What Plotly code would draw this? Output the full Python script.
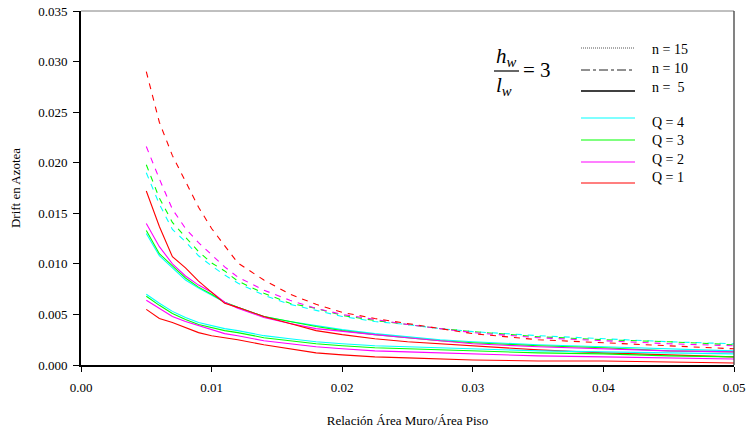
import plotly.graph_objects as go

# Wall-to-floor area ratio (x) shared by every curve
ratio = [0.005, 0.006, 0.007, 0.008, 0.009, 0.010, 0.011, 0.012, 0.014, 0.016,
         0.018, 0.020, 0.0225, 0.025, 0.0275, 0.030, 0.035, 0.040, 0.045, 0.050]

# Roof drift, n = 15 storeys
n15_q4 = [0.0190, 0.0159, 0.0134, 0.0122, 0.0108, 0.0098, 0.0089, 0.0081, 0.0069, 0.0060,
          0.0054, 0.0048, 0.0043, 0.0040, 0.0036, 0.0033, 0.0029, 0.0026, 0.0023, 0.0021]
n15_q3 = [0.0198, 0.0165, 0.0141, 0.0127, 0.0112, 0.0101, 0.0093, 0.0083, 0.0071, 0.0061,
          0.0056, 0.0049, 0.0044, 0.0040, 0.0036, 0.0033, 0.0028, 0.0025, 0.0023, 0.0020]
n15_q2 = [0.0216, 0.0184, 0.0154, 0.0135, 0.0121, 0.0109, 0.0097, 0.0087, 0.0074, 0.0064,
          0.0056, 0.0050, 0.0045, 0.0040, 0.0036, 0.0032, 0.0027, 0.0024, 0.0021, 0.0019]
n15_q1 = [0.0290, 0.0240, 0.0207, 0.0181, 0.0156, 0.0135, 0.0118, 0.0101, 0.0084, 0.0070,
          0.0060, 0.0052, 0.0046, 0.0041, 0.0036, 0.0031, 0.0025, 0.0022, 0.0019, 0.0016]

# Roof drift, n = 10 storeys
n10_q4 = [0.0130, 0.0108, 0.0096, 0.0084, 0.0076, 0.0069, 0.0062, 0.0057, 0.0048, 0.0043,
          0.0039, 0.0035, 0.0031, 0.0028, 0.0025, 0.0023, 0.0020, 0.0018, 0.0016, 0.0014]
n10_q3 = [0.0133, 0.0110, 0.0098, 0.0086, 0.0077, 0.0070, 0.0062, 0.0057, 0.0048, 0.0043,
          0.0038, 0.0034, 0.0030, 0.0027, 0.0024, 0.0022, 0.0019, 0.0017, 0.0014, 0.0013]
n10_q2 = [0.0140, 0.0117, 0.0100, 0.0088, 0.0079, 0.0072, 0.0062, 0.0056, 0.0047, 0.0041,
          0.0036, 0.0033, 0.0030, 0.0027, 0.0024, 0.0021, 0.0018, 0.0016, 0.0014, 0.0013]
n10_q1 = [0.0172, 0.0137, 0.0107, 0.0096, 0.0083, 0.0072, 0.0061, 0.0057, 0.0048, 0.0041,
          0.0034, 0.0030, 0.0026, 0.0023, 0.0021, 0.0019, 0.0015, 0.0012, 0.0010, 0.0008]

# Roof drift, n = 5 storeys
n5_q4 = [0.0070, 0.0061, 0.0053, 0.0047, 0.0042, 0.0039, 0.0036, 0.0034, 0.0029, 0.0026,
         0.0023, 0.0021, 0.0019, 0.0018, 0.0017, 0.0016, 0.0014, 0.0013, 0.0012, 0.0011]
n5_q3 = [0.0068, 0.0059, 0.0051, 0.0045, 0.0040, 0.0037, 0.0034, 0.0032, 0.0027, 0.0024,
         0.0021, 0.0019, 0.0017, 0.0016, 0.0015, 0.0014, 0.0012, 0.0011, 0.0009, 0.0008]
n5_q2 = [0.0064, 0.0056, 0.0048, 0.0043, 0.0039, 0.0035, 0.0031, 0.0029, 0.0024, 0.0021,
         0.0018, 0.0016, 0.0014, 0.0013, 0.0012, 0.0011, 0.0009, 0.0008, 0.0007, 0.0006]
n5_q1 = [0.0055, 0.0046, 0.0042, 0.0037, 0.0032, 0.0029, 0.0027, 0.0025, 0.0020, 0.0016,
         0.0012, 0.0010, 0.0008, 0.0007, 0.0006, 0.0005, 0.0004, 0.0004, 0.0003, 0.0002]

q_colors = {"Q = 4": "#00FFFF", "Q = 3": "#00FF00", "Q = 2": "#FF00FF", "Q = 1": "#FF0000"}

groups = [
    ("6px,6px", {"Q = 4": n15_q4, "Q = 3": n15_q3, "Q = 2": n15_q2, "Q = 1": n15_q1}),
    ("solid",   {"Q = 4": n10_q4, "Q = 3": n10_q3, "Q = 2": n10_q2, "Q = 1": n10_q1}),
    ("solid",   {"Q = 4": n5_q4, "Q = 3": n5_q3, "Q = 2": n5_q2, "Q = 1": n5_q1}),
]

FONT = "Liberation Serif"

fig = go.Figure()
for dash, series in groups:
    for name, vals in series.items():
        fig.add_trace(go.Scatter(
            x=ratio, y=vals, mode="lines", showlegend=False,
            line=dict(color=q_colors[name], width=1.1, dash=dash),
            hoverinfo="skip"))

# Plot-area geometry in pixels (for placing the hand-drawn key)
L, R, T, B = 81, 734, 11, 365
W, H = R - L, B - T

def px(x):
    return (x - L) / W

def py(y):
    return (B - y) / H

shapes = []
annotations = []

# Thin grey frame on top and right
shapes.append(dict(type="line", xref="paper", yref="paper", x0=0, x1=1, y0=1, y1=1,
                   line=dict(color="#808080", width=1)))
shapes.append(dict(type="line", xref="paper", yref="paper", x0=1, x1=1, y0=0, y1=1,
                   line=dict(color="#404040", width=1.3)))

# Key: storeys (line style) and Q (colour)
key_lines = [
    (48, "#555555", "1px,1px", 1, "n = 15", 49),
    (70, "#222222", "dashdot", 1, "n = 10", 68),
    (91, "#000000", "solid", 1.6, "n =  5", 87),
    (118, "#00FFFF", "solid", 1.2, "Q = 4", 123),
    (140, "#00FF00", "solid", 1.2, "Q = 3", 141),
    (162, "#FF00FF", "solid", 1.2, "Q = 2", 159),
    (183, "#FF0000", "solid", 1.2, "Q = 1", 177),
]
for ly, col, dsh, wd, label, ty in key_lines:
    shapes.append(dict(type="line", xref="paper", yref="paper",
                       x0=px(581), x1=px(635), y0=py(ly), y1=py(ly),
                       line=dict(color=col, width=wd, dash=dsh)))
    annotations.append(dict(xref="paper", yref="paper", x=px(650), y=py(ty),
                            text=label.replace(" ", "&nbsp;"), showarrow=False,
                            xanchor="left", yanchor="middle",
                            font=dict(family=FONT, size=14, color="black")))

# h_w / l_w = 3
shapes.append(dict(type="line", xref="paper", yref="paper",
                   x0=px(494), x1=px(519), y0=py(71), y1=py(71),
                   line=dict(color="black", width=1.2)))
annotations += [
    dict(xref="paper", yref="paper", x=px(506), y=py(57), showarrow=False,
         text="<i>h</i><sub><i>w</i></sub>", xanchor="center", yanchor="middle",
         font=dict(family=FONT, size=21, color="black")),
    dict(xref="paper", yref="paper", x=px(504), y=py(86), showarrow=False,
         text="<i>l</i><sub><i>w</i></sub>", xanchor="center", yanchor="middle",
         font=dict(family=FONT, size=21, color="black")),
    dict(xref="paper", yref="paper", x=px(521), y=py(70), showarrow=False,
         text="= 3", xanchor="left", yanchor="middle",
         font=dict(family=FONT, size=21, color="black")),
]

fig.update_layout(
    width=750, height=434,
    margin=dict(l=L, r=750 - R, t=T, b=434 - B, autoexpand=False),
    paper_bgcolor="white", plot_bgcolor="white",
    font=dict(family=FONT, size=13, color="black"),
    shapes=shapes, annotations=annotations,
    xaxis=dict(range=[0, 0.05], tickvals=[0, 0.01, 0.02, 0.03, 0.04, 0.05],
               ticktext=["0.00", "0.01", "0.02", "0.03", "0.04", "0.05"],
               automargin=False,
               showgrid=False, zeroline=False, showline=True, linecolor="black",
               linewidth=2, ticks="outside", ticklen=5, tickcolor="black",
               tickwidth=1, ticklabelstandoff=4,
               tickfont=dict(family=FONT, size=13),
               title=dict(text="Relación Área Muro/Área Piso", standoff=22,
                          font=dict(family=FONT, size=13))),
    yaxis=dict(range=[0, 0.035], tickvals=[0, 0.005, 0.01, 0.015, 0.02, 0.025, 0.03, 0.035],
               ticktext=["0.000", "0.005", "0.010", "0.015", "0.020", "0.025", "0.030", "0.035"],
               automargin=False,
               showgrid=False, zeroline=False, showline=True, linecolor="black",
               linewidth=2, ticks="outside", ticklen=6, tickcolor="black",
               tickwidth=1, ticklabelstandoff=3,
               tickfont=dict(family=FONT, size=13),
               title=dict(text="Drift en Azotea", standoff=15,
                          font=dict(family=FONT, size=13))),
)

fig.write_html("out.html")
